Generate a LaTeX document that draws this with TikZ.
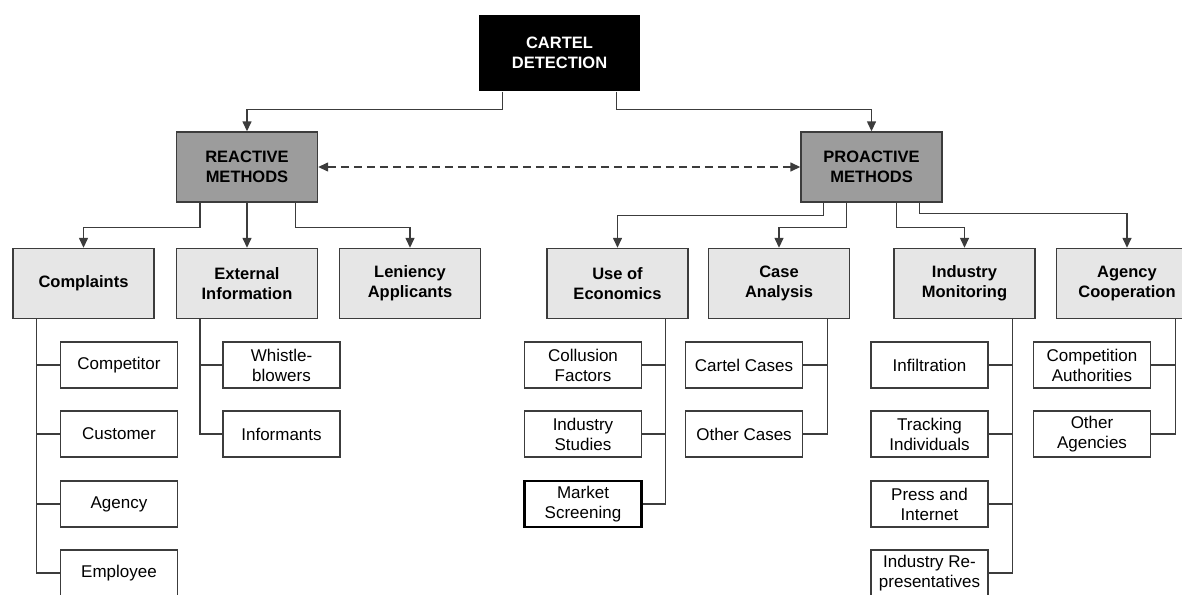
\documentclass[tikz,border=0pt]{standalone}
\usepackage{fontspec}
\setmainfont{Liberation Sans}
\usetikzlibrary{arrows.meta}

\definecolor{linec}{HTML}{3C3C3C}
\definecolor{methgray}{HTML}{9C9C9C}
\definecolor{catgray}{HTML}{E6E6E6}

\begin{document}
\begin{tikzpicture}[x=1pt, y=-1pt, line width=1.4pt,
    rootbox/.style={fill=black, text=white, minimum width=161pt, minimum height=76pt, align=center, font=\bfseries\fontsize{16.5}{20}\selectfont},
    methbox/.style={draw=linec, fill=methgray, minimum width=141pt, minimum height=70pt, align=center, font=\bfseries\fontsize{16.5}{20}\selectfont},
    catbox/.style={draw=linec, fill=catgray, minimum width=141pt, minimum height=70pt, align=center, font=\bfseries\fontsize{16.5}{20}\selectfont},
    leafbox/.style={draw=linec, fill=white, minimum width=117pt, minimum height=46pt, inner sep=2pt, align=center, font=\fontsize{17}{20}\selectfont},
    link/.style={draw=linec, -{Triangle[length=10pt,width=9pt]}},
    dashlink/.style={draw=linec, dash pattern=on 8pt off 5pt, {Triangle[length=10pt,width=9pt]}-{Triangle[length=10pt,width=9pt]}},
    tree/.style={draw=linec}]

    \useasboundingbox (0, 0) rectangle (1182, 594);

    \node[rootbox] (cd) at (559.5, 53) {CARTEL\\DETECTION};
    \node[methbox] (rm) at (247, 167) {REACTIVE\\METHODS};
    \node[methbox] (pm) at (871.5, 167) {PROACTIVE\\METHODS};

    \node[catbox] (cmp) at (83.5, 283.5) {Complaints};
    \node[catbox] (ext) at (247, 283.5) {External\\Information};
    \node[catbox] (len) at (410, 283.5) {Leniency\\Applicants};
    \node[catbox] (eco) at (617.5, 283.5) {Use of\\Economics};
    \node[catbox] (cas) at (779, 283.5) {Case\\Analysis};
    \node[catbox] (ind) at (964.5, 283.5) {Industry\\Monitoring};
    \node[catbox] (agc) at (1127, 283.5) {Agency\\Cooperation};

    \node[leafbox] (cmp1) at (119, 365) {Competitor};
    \node[leafbox] (cmp2) at (119, 434) {Customer};
    \node[leafbox] (cmp3) at (119, 504) {Agency};
    \node[leafbox] (cmp4) at (119, 573) {Employee};

    \node[leafbox] (ext1) at (281.5, 365) {Whistle-\\blowers};
    \node[leafbox] (ext2) at (281.5, 434) {Informants};

    \node[leafbox] (eco1) at (583, 365) {Collusion\\Factors};
    \node[leafbox] (eco2) at (583, 434) {Industry\\Studies};
    \node[leafbox, draw=black, line width=2.4pt] (eco3) at (583, 504) {Market\\Screening};

    \node[leafbox] (cas1) at (744, 365) {Cartel Cases};
    \node[leafbox] (cas2) at (744, 434) {Other Cases};

    \node[leafbox] (ind1) at (929.5, 365) {Infiltration};
    \node[leafbox] (ind2) at (929.5, 434) {Tracking\\Individuals};
    \node[leafbox] (ind3) at (929.5, 504) {Press and\\Internet};
    \node[leafbox] (ind4) at (929.5, 573) {Industry Re-\\presentatives};

    \node[leafbox] (agc1) at (1092, 365) {Competition\\Authorities};
    \node[leafbox] (agc2) at (1092, 434) {Other\\Agencies};

    \draw[link] ([xshift=24pt]cd.south west) -- ++(0, 18) -| (rm.north);
    \draw[link] ([xshift=-24pt]cd.south east) -- ++(0, 18) -| (pm.north);
    \draw[dashlink] (rm.east) -- (pm.west);

    \draw[link] ([xshift=24pt]rm.south west) -- ++(0, 25) -| (cmp.north);
    \draw[link] (rm.south) -- (ext.north);
    \draw[link] ([xshift=-23pt]rm.south east) -- ++(0, 25) -| (len.north);

    \draw[link] ([xshift=23pt]pm.south west) -- ++(0, 13) -| (eco.north);
    \draw[link] ([xshift=46pt]pm.south west) -- ++(0, 25) -| (cas.north);
    \draw[link] ([xshift=-46pt]pm.south east) -- ++(0, 25) -| (ind.north);
    \draw[link] ([xshift=-23pt]pm.south east) -- ++(0, 11) -| (agc.north);

    \coordinate (cmps) at ([xshift=24pt]cmp.south west);
    \draw[tree] (cmps) |- (cmp4.west);
    \draw[tree] (cmps |- cmp1.west) -- (cmp1.west);
    \draw[tree] (cmps |- cmp2.west) -- (cmp2.west);
    \draw[tree] (cmps |- cmp3.west) -- (cmp3.west);

    \coordinate (exts) at ([xshift=24pt]ext.south west);
    \draw[tree] (exts) |- (ext2.west);
    \draw[tree] (exts |- ext1.west) -- (ext1.west);

    \coordinate (ecos) at ([xshift=-23pt]eco.south east);
    \draw[tree] (ecos) |- (eco3.east);
    \draw[tree] (ecos |- eco1.east) -- (eco1.east);
    \draw[tree] (ecos |- eco2.east) -- (eco2.east);

    \coordinate (cass) at ([xshift=-23pt]cas.south east);
    \draw[tree] (cass) |- (cas2.east);
    \draw[tree] (cass |- cas1.east) -- (cas1.east);

    \coordinate (inds) at ([xshift=-23pt]ind.south east);
    \draw[tree] (inds) |- (ind4.east);
    \draw[tree] (inds |- ind1.east) -- (ind1.east);
    \draw[tree] (inds |- ind2.east) -- (ind2.east);
    \draw[tree] (inds |- ind3.east) -- (ind3.east);

    \coordinate (agcs) at ([xshift=-23pt]agc.south east);
    \draw[tree] (agcs) |- (agc2.east);
    \draw[tree] (agcs |- agc1.east) -- (agc1.east);
\end{tikzpicture}
\end{document}
